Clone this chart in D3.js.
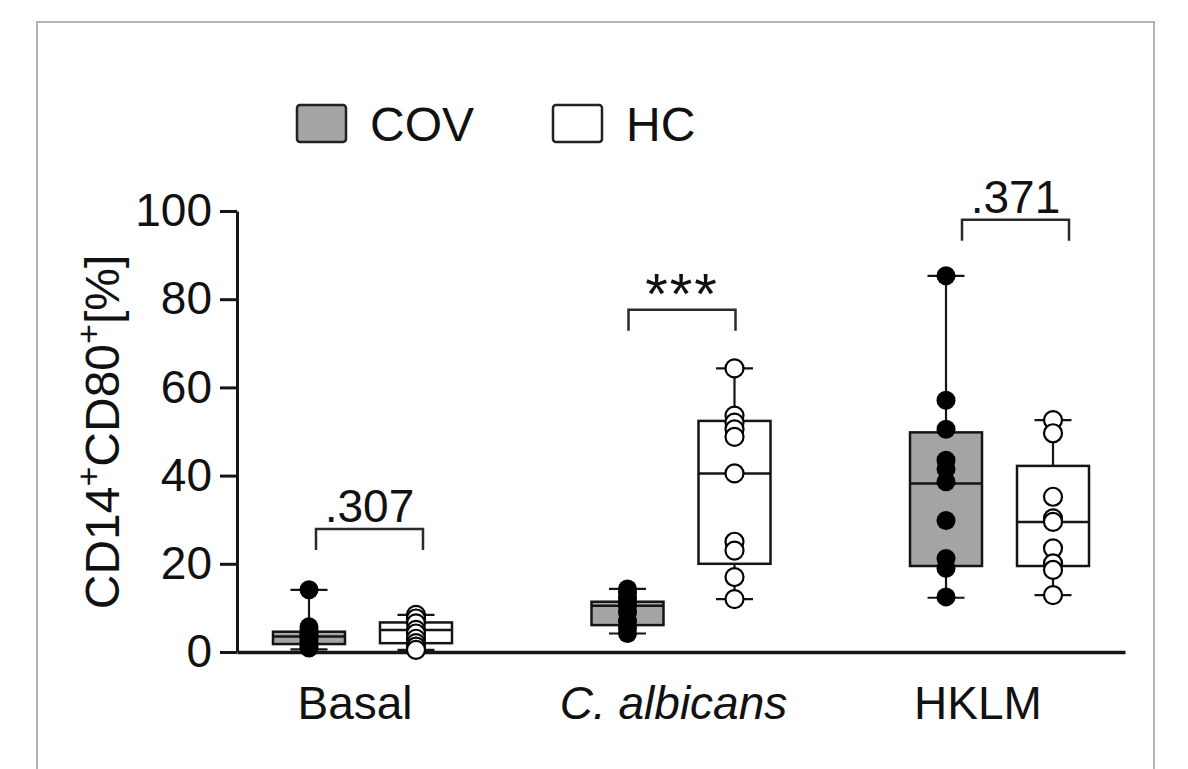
<!DOCTYPE html>
<html>
<head>
<meta charset="utf-8">
<script src="https://cdn.jsdelivr.net/npm/d3@7"></script>
<style>
  body { margin: 0; background: #fff; }
  svg text { font-family: "Liberation Sans", Arial, sans-serif; fill: #111; }
</style>
</head>
<body>
<svg id="svg1" width="1188" height="769"></svg>
<script>
"use strict";

// categories and groups
const categories = ["Basal", "C. albicans", "HKLM"];
const series = ["COV", "HC"];
const yTicks = [0, 20, 40, 60, 80, 100];

// individual donors (% CD14+CD80+)
const covPoints = [
  [14.1, 5.7, 5.0, 4.4, 3.9, 3.5, 3.0, 2.2, 1.5, 0.9],
  [14.3, 13.5, 12.5, 11.8, 11.0, 10.5, 9.0, 7.0, 5.5, 4.2],
  [85.3, 57.1, 50.5, 43.5, 41.5, 38.6, 29.8, 21.2, 19.0, 12.5]
];
const hcPoints = [
  [8.4, 7.6, 6.5, 5.0, 4.2, 3.0, 2.0, 1.2, 0.5],
  [64.3, 53.6, 52.0, 50.5, 48.8, 40.5, 25.0, 23.0, 17.0, 12.0],
  [52.6, 49.6, 35.2, 30.3, 29.5, 23.5, 20.1, 18.6, 12.9]
];

// box stats: [min, q1, median, q3, max]
const covBoxes = [
  [0.6, 1.8, 3.5, 4.6, 14.1],
  [4.2, 6.1, 10.5, 11.4, 14.3],
  [12.3, 19.5, 38.2, 49.8, 85.3]
];
const hcBoxes = [
  [0.5, 2.0, 5.0, 6.7, 8.4],
  [12.0, 20.0, 40.5, 52.4, 64.3],
  [12.9, 19.5, 29.5, 42.2, 52.6]
];

// significance labels and the height of their brackets
const pLabels = [".307", "***", ".371"];
const bracketLevels = [27.9, 77.6, 98.0];

//-------------------------------------------------------
const svg    = d3.select("#svg1"),
      margin = {top: 211, right: 63, bottom: 117, left: 237},
      width  = +svg.attr("width")  - margin.left - margin.right,
      height = +svg.attr("height") - margin.top  - margin.bottom;

const fontSize = 46;
const covFill = "#a4a4a4";
const ink = "#151515";

// light grey frame round the panel
svg.append("rect")
  .attr("x", 37).attr("y", 22)
  .attr("width", 1117).attr("height", 800)
  .attr("fill", "none")
  .attr("stroke", "#b3b3b3")
  .attr("stroke-width", 2);

const g = svg.append("g").attr("transform", `translate(${margin.left},${margin.top})`);

const x    = d3.scalePoint().domain(categories).range([0, width]).padding(0.394);
const xSub = d3.scalePoint().domain(series).range([-53.5, 53.5]);
const y    = d3.scaleLinear().domain([0, 100]).range([height, 0]);

const boxW = 72, capW = 37;

// y axis
const yAxis = g.append("g")
  .attr("class", "axis axis-y")
  .call(d3.axisLeft(y).tickValues(yTicks).tickSize(17).tickSizeOuter(0).tickPadding(8));
yAxis.select(".domain").attr("stroke", ink).attr("stroke-width", 3);
yAxis.selectAll(".tick line").attr("stroke", ink).attr("stroke-width", 3);
yAxis.selectAll(".tick text")
  .style("font-size", fontSize + "px")
  .attr("fill", ink);

// x axis - labels sit a little left of the pair centre in the original
const labelNudge = {"Basal": -8, "C. albicans": -8, "HKLM": -22};
const xAxis = g.append("g")
  .attr("class", "axis axis-x")
  .attr("transform", `translate(0,${height})`)
  .call(d3.axisBottom(x).tickSize(0).tickSizeOuter(0).tickPadding(34));
xAxis.select(".domain").attr("stroke", ink).attr("stroke-width", 3.5);
xAxis.selectAll(".tick text")
  .style("font-size", fontSize + "px")
  .style("font-style", d => d === "C. albicans" ? "italic" : "normal")
  .attr("fill", ink)
  .attr("x", d => labelNudge[d]);

// y axis title
svg.append("text")
  .attr("transform", "translate(119,432) rotate(-90)")
  .style("text-anchor", "middle")
  .style("font-size", "48px")
  .call(t => {
    t.append("tspan").text("CD14");
    t.append("tspan").attr("baseline-shift", "super").style("font-size", "34px").text("+");
    t.append("tspan").text("CD80");
    t.append("tspan").attr("baseline-shift", "super").style("font-size", "34px").text("+");
    t.append("tspan").text("[%]");
  });

// boxes, whiskers and dots for one series
function drawSeries(name, boxes, points, fill) {
  categories.forEach((cat, i) => {
    const cx = x(cat) + xSub(name);
    const b = boxes[i];
    const grp = g.append("g").attr("class", "box " + name);

    grp.append("line")
      .attr("x1", cx).attr("x2", cx)
      .attr("y1", y(b[0])).attr("y2", y(b[4]))
      .attr("stroke", ink).attr("stroke-width", 2.2);

    grp.selectAll(".cap")
      .data([b[0], b[4]])
      .enter().append("line")
      .attr("class", "cap")
      .attr("x1", cx - capW / 2).attr("x2", cx + capW / 2)
      .attr("y1", d => y(d)).attr("y2", d => y(d))
      .attr("stroke", ink).attr("stroke-width", 2.2);

    grp.append("rect")
      .attr("x", cx - boxW / 2)
      .attr("y", y(b[3]))
      .attr("width", boxW)
      .attr("height", y(b[1]) - y(b[3]))
      .attr("fill", fill)
      .attr("stroke", ink).attr("stroke-width", 2.5);

    grp.append("line")
      .attr("x1", cx - boxW / 2).attr("x2", cx + boxW / 2)
      .attr("y1", y(b[2])).attr("y2", y(b[2]))
      .attr("stroke", ink).attr("stroke-width", 2.5);

    grp.selectAll(".dot")
      .data(points[i])
      .enter().append("circle")
      .attr("class", "dot")
      .attr("cx", cx)
      .attr("cy", d => y(d))
      .attr("r", name === "COV" ? 9.5 : 9)
      .attr("fill", name === "COV" ? "#000" : "#fff")
      .attr("stroke", "#000")
      .attr("stroke-width", name === "COV" ? 0 : 2.2);
  });
}

drawSeries("COV", covBoxes, covPoints, covFill);
drawSeries("HC", hcBoxes, hcPoints, "#fff");

// significance brackets
const bracketNudge = [7, 1, 16];
const tickDrop = 21;
categories.forEach((cat, i) => {
  const x1 = x(cat) + xSub("COV") + bracketNudge[i],
        x2 = x(cat) + xSub("HC") + bracketNudge[i],
        by = y(bracketLevels[i]);
  g.append("path")
    .attr("d", `M${x1},${by + tickDrop}V${by}H${x2}V${by + tickDrop}`)
    .attr("fill", "none")
    .attr("stroke", "#2a2a2a")
    .attr("stroke-width", 2.5);
  const stars = pLabels[i].startsWith("*");
  g.append("text")
    .attr("x", (x1 + x2) / 2)
    .attr("y", stars ? by + 4 : by - 7)
    .style("text-anchor", "middle")
    .style("font-size", stars ? "58px" : fontSize + "px")
    .style("letter-spacing", stars ? "2px" : "0px")
    .text(pLabels[i]);
});

// legend
const legend = svg.append("g").attr("class", "legend");
const legendX = [297, 553];
series.forEach((s, i) => {
  legend.append("rect")
    .attr("x", legendX[i]).attr("y", 105)
    .attr("width", 49).attr("height", 37)
    .attr("rx", 3)
    .attr("fill", s === "COV" ? covFill : "#fff")
    .attr("stroke", "#222")
    .attr("stroke-width", 2.5);
  legend.append("text")
    .attr("x", legendX[i] + 73).attr("y", 141)
    .style("font-size", "48px")
    .text(s);
});
</script>
</body>
</html>
